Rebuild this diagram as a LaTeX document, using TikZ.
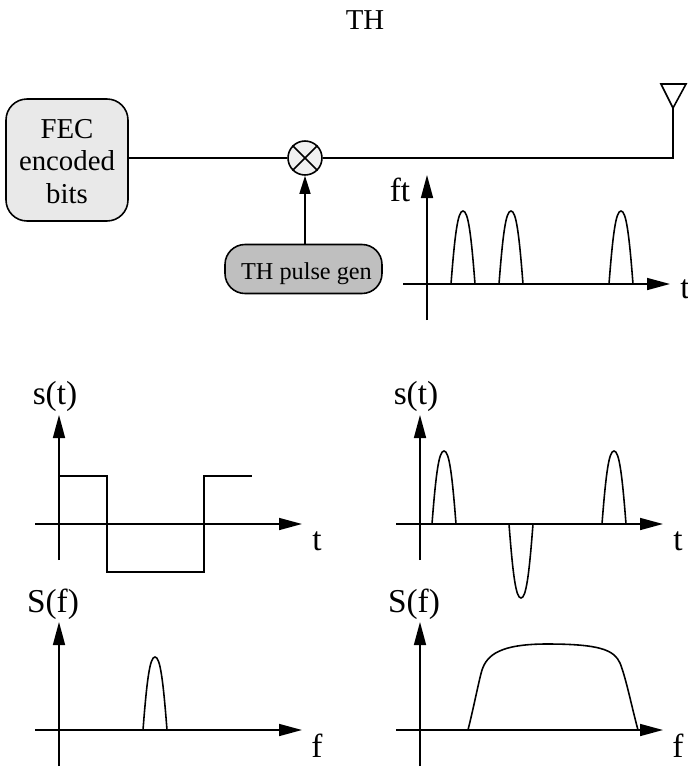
\documentclass[tikz,border=0pt]{standalone}
\usepackage{fontspec}
\setmainfont{Liberation Serif}
\usetikzlibrary{arrows.meta}
\tikzset{
    bitsbox/.style={draw, line width=0.9pt, rounded corners=0.42cm, fill=gray!17, inner sep=0pt,
        align=center, font=\fontsize{16.4}{18.4}\selectfont},
    genbox/.style={draw, line width=0.9pt, rounded corners=0.4cm, fill=gray!50, inner sep=0pt,
        text height=12pt, text depth=0.5pt, font=\fontsize{13.8}{15}\selectfont},
    mixer/.style={draw, circle, line width=0.9pt, fill=gray!12, minimum size=0.68cm, inner sep=0pt},
    wire/.style={line width=0.9pt},
    axis/.style={line width=0.9pt, -{Triangle[length=0.46cm, width=0.24cm]}},
    curve/.style={line width=0.9pt},
    lab/.style={inner sep=0pt, font=\fontsize{19}{21}\selectfont}
}
\begin{document}
\begin{tikzpicture}[x=0.02cm, y=-0.02cm]
    \useasboundingbox (0,0) rectangle (688,768);
    \node[lab, font=\fontsize{16.4}{18}\selectfont] (title) at (365,20) {TH};
    % transmitter chain
    \node[bitsbox, minimum width=2.44cm, minimum height=2.44cm] (bits) at (67,160) {\rule{0pt}{12.5pt}FEC\\encoded\\bits};
    \node[genbox, minimum width=3.14cm, minimum height=0.98cm] (gen) at (303.5,269) {\hspace*{3.4pt}TH pulse gen};
    \node[mixer] (mix) at (305,158) {};
    \draw[wire] (mix.north west) -- (mix.south east);
    \draw[wire] (mix.north east) -- (mix.south west);
    \coordinate (ant) at (673,108);
    \draw[wire] (661,84) -- (686,84) -- (ant) -- cycle;
    \draw[wire] (bits.east |- mix) -- (mix);
    \draw[wire] (mix) -| (ant);
    \draw[wire, -{Triangle[length=0.36cm, width=0.22cm]}] (mix |- gen.north) -- (mix.south);
    % pulses after the mixer
    \draw[axis] (427,320) -- (427,175);
    \draw[axis] (403,284) -- (670,284);
    \foreach \x in {451,499,609}
        \draw[curve, shift={(\x,284)}] (0,0) .. controls (4,-52) and (7,-73) .. (12,-73) .. controls (17,-73) and (20,-52) .. (24,0);
    \node[lab] (ftlab) at (400,190) {ft};
    \node[lab] (tlab) at (685,289) {t};
    % square wave
    \draw[axis] (59,560) -- (59,415);
    \draw[axis] (35,524) -- (302,524);
    \draw[curve] (59,476) -- (107,476) -- (107,572) -- (204,572) -- (204,476) -- (252,476);
    \node[lab] (slab) at (55,396) {s(t)};
    \node[lab] (tlabb) at (317,541) {t};
    % its spectrum
    \draw[axis] (59,766) -- (59,622);
    \draw[axis] (35,730) -- (302,730);
    \draw[curve, shift={(143,730)}] (0,0) .. controls (4,-52) and (7,-73) .. (12,-73) .. controls (17,-73) and (20,-52) .. (24,0);
    \node[lab] (Slab) at (53,604) {S(f)};
    \node[lab] (flab) at (317,746) {f};
    % time hopping signal
    \draw[axis] (420,560) -- (420,415);
    \draw[axis] (396,524) -- (663,524);
    \foreach \x/\h in {432/-73,509/74,602/-73}
        \draw[curve, shift={(\x,524)}] (0,0) .. controls (4,0.71*\h) and (7,\h) .. (12,\h) .. controls (17,\h) and (20,0.71*\h) .. (24,0);
    \node[lab] (slabb) at (416,396) {s(t)};
    \node[lab] (tlabc) at (678,541) {t};
    % its spectrum
    \draw[axis] (420,766) -- (420,622);
    \draw[axis] (396,730) -- (663,730);
    \draw[curve] (468,730) .. controls (474,706) and (479,680) .. (482,670) .. controls (487,655) and (500,644) .. (547,644) .. controls (600,644) and (614,650) .. (620,663) .. controls (626,678) and (632,708) .. (638,730);
    \node[lab] (Slabb) at (414,604) {S(f)};
    \node[lab] (flabb) at (678,746) {f};
\end{tikzpicture}
\end{document}
